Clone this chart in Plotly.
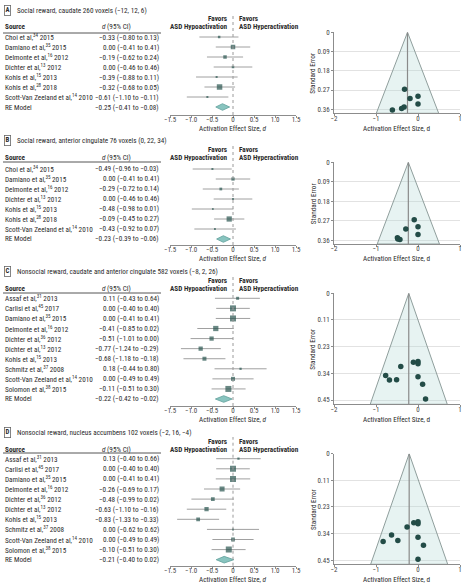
import plotly.graph_objects as go

# ---------------- data ----------------
A_title = "Social reward, caudate 260 voxels (−12, 12, 6)"
A_studies = ["Choi et al,<sup>34</sup> 2015", "Damiano et al,<sup>35</sup> 2015",
             "Delmonte et al,<sup>16</sup> 2012", "Dichter et al,<sup>13</sup> 2012",
             "Kohls et al,<sup>15</sup> 2013", "Kohls et al,<sup>28</sup> 2018",
             "Scott-Van Zeeland et al,<sup>14</sup> 2010"]
A_d = [-0.33, 0.00, -0.19, 0.00, -0.39, -0.32, -0.61]
A_lo = [-0.80, -0.41, -0.62, -0.46, -0.88, -0.68, -1.10]
A_hi = [0.13, 0.41, 0.24, 0.46, 0.11, 0.05, -0.11]
A_weight = [6, 14, 10, 6, 4, 18, 4]
A_se = [0.349, 0.299, 0.310, 0.335, 0.357, 0.266, 0.363]
A_re = [-0.25, -0.41, -0.08]
A_se_ticks = [0, 0.09, 0.18, 0.27, 0.36]
A_se_labels = ["0", "0.09", "0.18", "0.27", "0.36"]

B_title = "Social reward, anterior cingulate 76 voxels (0, 22, 34)"
B_studies = A_studies
B_d = [-0.49, 0.00, -0.29, 0.00, -0.48, -0.09, -0.43]
B_lo = [-0.96, -0.41, -0.72, -0.46, -0.98, -0.45, -0.92]
B_hi = [-0.03, 0.41, 0.14, 0.46, 0.01, 0.27, 0.07]
B_weight = [4, 9, 7, 3, 3, 17, 3]
B_se = [0.349, 0.298, 0.309, 0.334, 0.355, 0.266, 0.357]
B_re = [-0.23, -0.39, -0.06]
B_se_ticks = A_se_ticks
B_se_labels = A_se_labels

C_title = "Nonsocial reward, caudate and anterior cingulate 582 voxels (−8, 2, 26)"
C_studies = ["Assaf et al,<sup>31</sup> 2013", "Carlisi et al,<sup>45</sup> 2017",
             "Damiano et al,<sup>35</sup> 2015", "Delmonte et al,<sup>16</sup> 2012",
             "Dichter et al,<sup>36</sup> 2012", "Dichter et al,<sup>13</sup> 2012",
             "Kohls et al,<sup>15</sup> 2013", "Schmitz et al,<sup>37</sup> 2008",
             "Scott-Van Zeeland et al,<sup>14</sup> 2010", "Solomon et al,<sup>38</sup> 2015"]
C_d = [0.11, 0.00, 0.00, -0.41, -0.51, -0.77, -0.68, 0.18, 0.00, -0.11]
C_lo = [-0.43, -0.40, -0.41, -0.85, -1.01, -1.24, -1.18, -0.44, -0.49, -0.51]
C_hi = [0.64, 0.40, 0.41, 0.02, 0.00, -0.29, -0.18, 0.80, 0.49, 0.30]
C_weight = [8, 20, 20, 17, 13, 13, 12, 5, 12, 20]
C_se = [0.383, 0.288, 0.297, 0.309, 0.364, 0.347, 0.366, 0.446, 0.352, 0.291]
C_re = [-0.22, -0.42, -0.02]
C_se_ticks = [0, 0.1125, 0.225, 0.3375, 0.45]
C_se_labels = ["0", "0.11", "0.23", "0.34", "0.45"]

D_title = "Nonsocial reward, nucleus accumbens 102 voxels (−2, 16, −4)"
D_studies = C_studies
D_d = [0.13, 0.00, 0.00, -0.26, -0.48, -0.63, -0.83, 0.00, 0.00, -0.10]
D_lo = [-0.40, -0.40, -0.41, -0.69, -0.99, -1.10, -1.33, -0.62, -0.49, -0.51]
D_hi = [0.66, 0.40, 0.41, 0.17, 0.02, -0.16, -0.33, 0.62, 0.49, 0.30]
D_weight = [5, 20, 20, 16, 11, 13, 11, 4, 11, 20]
D_se = [0.387, 0.288, 0.296, 0.310, 0.367, 0.344, 0.372, 0.447, 0.354, 0.292]
D_re = [-0.21, -0.40, 0.02]
D_se_ticks = C_se_ticks
D_se_labels = C_se_labels

forest_ticks = [-1.5, -1.0, -0.5, 0, 0.5, 1.0, 1.5]
forest_ticklabels = ["−1.5", "−1.0", "−0.5", "0", "0.5", "1.0", "1.5"]
funnel_ticks = [-2, -1, 0, 1]
funnel_ticklabels = ["−2", "−1", "0", "1"]

# ---------------- layout geometry (pixels) ----------------
W, H = 467, 588
geom = [
    dict(title_y=10, favors_y=19, header_y=27, rule_y=33, row0=37, step=10.0, axis_y=115,
         f_top=32.3, f_bot=113.3, f_max=0.379),
    dict(title_y=140, favors_y=149, header_y=157.5, rule_y=162, row0=169, step=10.0, axis_y=245,
         f_top=162.3, f_bot=244, f_max=0.378),
    dict(title_y=271, favors_y=281, header_y=289, rule_y=293, row0=298.3, step=10.07, axis_y=406,
         f_top=293.3, f_bot=404.3, f_max=0.468),
    dict(title_y=432, favors_y=441, header_y=449, rule_y=453, row0=458.7, step=10.1, axis_y=565.7,
         f_top=453.7, f_bot=564.3, f_max=0.468),
]

panels = [
    ("A", A_title, A_studies, A_d, A_lo, A_hi, A_weight, A_se, A_re, A_se_ticks, A_se_labels),
    ("B", B_title, B_studies, B_d, B_lo, B_hi, B_weight, B_se, B_re, B_se_ticks, B_se_labels),
    ("C", C_title, C_studies, C_d, C_lo, C_hi, C_weight, C_se, C_re, C_se_ticks, C_se_labels),
    ("D", D_title, D_studies, D_d, D_lo, D_hi, D_weight, D_se, D_re, D_se_ticks, D_se_labels),
]

FONT = "Roboto Condensed, DejaVu Sans Condensed, sans-serif"
TXT = "#2b2b2b"
SQ = "#2a5550"
PT = "#234c47"
CI = "#a0a0a0"
AXC = "#8c8c8c"

def fx(p):
    return p / W

def fy(p):
    return 1 - p / H

def fmt(v):
    return f"{v:.2f}".replace("-", "−")

def F(size=7.2, color=TXT):
    return dict(family=FONT, size=size, color=color)

fig = go.Figure()
ann = []
shapes = []
layout = dict(width=W, height=H, margin=dict(l=0, r=0, t=0, b=0, pad=0), autosize=False,
              paper_bgcolor="white", plot_bgcolor="rgba(0,0,0,0)", showlegend=False,
              font=F())

X0, X1 = 170, 296      # forest -1.5 .. 1.5
FX0, FX1 = 334, 460    # funnel -2 .. 1

for k, (letter, title, studies, d, lo, hi, wts, se, re, se_ticks, se_labels) in enumerate(panels):
    g = geom[k]
    n = len(studies)
    fxa, fya = 2 * k + 1, 2 * k + 1
    uxa, uya = 2 * k + 2, 2 * k + 2
    xf, yf = f"x{fxa}", f"y{fya}"
    xu, yu = f"x{uxa}", f"y{uya}"

    # ---- forest axes
    v_top = (g["row0"] - g["rule_y"]) / g["step"]
    v_bot = (g["row0"] - g["axis_y"]) / g["step"]
    layout[f"xaxis{fxa}"] = dict(domain=[fx(X0), fx(X1)], range=[-1.5, 1.5], anchor=yf,
                                 tickvals=forest_ticks, ticktext=forest_ticklabels,
                                 showline=True, linecolor=AXC, linewidth=1, ticks="outside",
                                 ticklen=2, tickcolor=AXC, showgrid=False, zeroline=False,
                                 ticklabelstandoff=-4,
                                 automargin=False, tickfont=F(7, "#444"))
    layout[f"yaxis{fya}"] = dict(domain=[fy(g["axis_y"]), fy(g["rule_y"])], range=[v_bot, v_top],
                                 anchor=xf, visible=False, showgrid=False, zeroline=False,
                                 automargin=False)

    fig.add_trace(go.Scatter(
        x=d, y=[-i for i in range(n)], xaxis=xf, yaxis=yf, mode="markers",
        marker=dict(size=[1 + 0.25 * w for w in wts], symbol="square", color=SQ,
                    line=dict(width=0)),
        error_x=dict(type="data", symmetric=False,
                     array=[h - v for h, v in zip(hi, d)],
                     arrayminus=[v - l for v, l in zip(d, lo)],
                     color=CI, thickness=1, width=0),
        hoverinfo="skip"))
    est, rlo, rhi = re
    fig.add_trace(go.Scatter(
        x=[rlo, est, rhi, est, rlo], y=[-n, -n + 0.33, -n, -n - 0.33, -n],
        xaxis=xf, yaxis=yf, mode="lines", fill="toself", fillcolor="#88c4bf",
        line=dict(color="#5f9f9a", width=0.8), hoverinfo="skip"))

    shapes.append(dict(type="line", xref=xf, x0=0, x1=0, yref="paper",
                       y0=fy(g["axis_y"]), y1=fy(g["favors_y"] - 4),
                       line=dict(color="#9a9a9a", width=1, dash="dot")))
    shapes.append(dict(type="line", xref="paper", x0=fx(3), x1=fx(161), yref="paper",
                       y0=fy(g["rule_y"]), y1=fy(g["rule_y"]),
                       line=dict(color="#555", width=1)))

    ann.append(dict(text=f"<b>{letter}</b>", xref="paper", yref="paper", x=fx(7), y=fy(g["title_y"]),
                    xanchor="center", yanchor="middle", showarrow=False,
                    bordercolor="#666", borderwidth=0.8, borderpad=0.6, font=F(6.8)))
    ann.append(dict(text=title, xref="paper", yref="paper", x=fx(15), y=fy(g["title_y"]),
                    xanchor="left", yanchor="middle", showarrow=False, font=F(7.2)))

    ann.append(dict(text="<b>Source</b>", xref="paper", yref="paper", x=fx(3), y=fy(g["header_y"]),
                    xanchor="left", yanchor="middle", showarrow=False, font=F()))
    ann.append(dict(text="<i>d</i> (95% CI)", xref="paper", yref="paper", x=fx(100), y=fy(g["header_y"]),
                    xanchor="left", yanchor="middle", showarrow=False, font=F()))
    for txt, yy in (("Favors", g["favors_y"]), ("ASD Hypoactivation", g["header_y"])):
        ann.append(dict(text=f"<b>{txt}</b>", xref="paper", yref="paper", x=fx(229), y=fy(yy),
                        xanchor="right", yanchor="middle", showarrow=False, font=F()))
    for txt, yy in (("Favors", g["favors_y"]), ("ASD Hyperactivation", g["header_y"])):
        ann.append(dict(text=f"<b>{txt}</b>", xref="paper", yref="paper", x=fx(237), y=fy(yy),
                        xanchor="left", yanchor="middle", showarrow=False, font=F()))

    labels = studies + ["RE Model"]
    dd = list(d) + [est]
    ll = list(lo) + [rlo]
    hh = list(hi) + [rhi]
    for i in range(n + 1):
        ann.append(dict(text=labels[i], xref="paper", yref=yf, x=fx(3), y=-i,
                        xanchor="left", yanchor="middle", showarrow=False, font=F()))
        ann.append(dict(text=f"{fmt(dd[i])} ({fmt(ll[i])} to {fmt(hh[i])})", xref="paper", yref=yf,
                        x=fx(161), y=-i, xanchor="right", yanchor="middle", showarrow=False,
                        font=F()))

    ann.append(dict(text="Activation Effect Size, <i>d</i>", xref=xf, yref="paper", x=0,
                    y=fy(g["axis_y"] + 13.5), xanchor="center", yanchor="middle", showarrow=False,
                    font=F()))

    # ---- funnel axes
    fmax = g["f_max"]
    layout[f"xaxis{uxa}"] = dict(domain=[fx(FX0), fx(FX1)], range=[-2, 1], anchor=yu,
                                 tickvals=funnel_ticks, ticktext=funnel_ticklabels,
                                 showline=True, linecolor=AXC, linewidth=1, ticks="outside",
                                 ticklen=2, tickcolor=AXC, showgrid=False, zeroline=False,
                                 ticklabelstandoff=-4,
                                 automargin=False, tickfont=F(7, "#444"))
    layout[f"yaxis{uya}"] = dict(domain=[fy(g["f_bot"]), fy(g["f_top"])], range=[fmax, 0], anchor=xu,
                                 tickvals=se_ticks, ticktext=se_labels,
                                 showline=True, linecolor=AXC, linewidth=1, ticks="outside",
                                 ticklen=2, tickcolor=AXC, showgrid=True, gridcolor="#e2e2e2",
                                 gridwidth=1, zeroline=False, automargin=False,
                                 tickfont=F(7, "#444"))
    half = 1.96 * fmax
    fig.add_trace(go.Scatter(
        x=[est - half, est, est + half, est - half], y=[fmax, 0, fmax, fmax],
        xaxis=xu, yaxis=yu, mode="lines", fill="toself", fillcolor="rgba(175,215,212,0.30)",
        line=dict(color="#8f9e9c", width=1), hoverinfo="skip"))
    fig.add_trace(go.Scatter(
        x=[est, est], y=[0, fmax], xaxis=xu, yaxis=yu, mode="lines",
        line=dict(color="#8a8a8a", width=1.2), hoverinfo="skip"))
    fig.add_trace(go.Scatter(
        x=d, y=se, xaxis=xu, yaxis=yu, mode="markers",
        marker=dict(size=5.5, color=PT, line=dict(width=0)), hoverinfo="skip"))

    ann.append(dict(text="Standard Error", xref="paper", yref="paper", x=fx(313),
                    y=fy((g["f_top"] + g["f_bot"]) / 2), textangle=-90,
                    xanchor="center", yanchor="middle", showarrow=False, font=F()))
    ann.append(dict(text="Activation Effect Size, d", xref=xu, yref="paper", x=-0.5,
                    y=fy(g["axis_y"] + 13.5), xanchor="center", yanchor="middle", showarrow=False,
                    font=F()))

layout["annotations"] = ann
layout["shapes"] = shapes
fig.update_layout(**layout)
fig.write_html("out.html", config={"responsive": False, "displayModeBar": False},
               post_script="document.body.style.margin='0';document.body.style.padding='0';")
